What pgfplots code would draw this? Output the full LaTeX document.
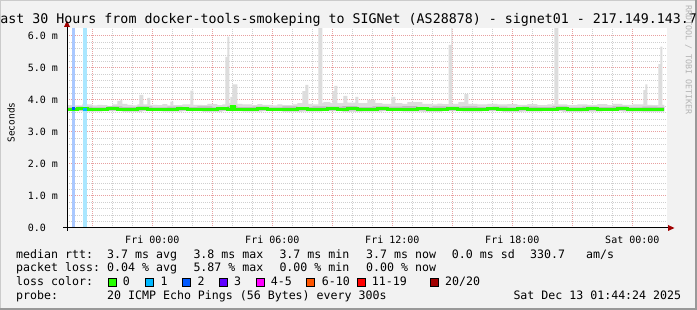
\documentclass[border=0pt]{standalone}
\usepackage{pgfplots}
\pgfplotsset{compat=1.18}
\usepgfplotslibrary{fillbetween}
\usepackage{fontspec}
\setmainfont{DejaVu Sans Mono}
\setmonofont{DejaVu Sans Mono}
\definecolor{bgc}{HTML}{F2F2F2}
\definecolor{shadeA}{HTML}{CBCBCB}
\definecolor{shadeB}{HTML}{999999}
\definecolor{gridminor}{HTML}{CFCFCF}
\definecolor{gridmajor}{HTML}{E8A0A0}
\definecolor{tickgray}{HTML}{A0A0A0}
\definecolor{arrowred}{HTML}{A00000}
\definecolor{smokeA}{HTML}{DDDDDD}
\definecolor{smokeB}{HTML}{BDBDBD}
\definecolor{medgreen}{HTML}{26FF00}
\definecolor{loss1}{HTML}{00B8FF}
\definecolor{loss2}{HTML}{0059FF}
\definecolor{loss3}{HTML}{5E00FF}
\definecolor{loss45}{HTML}{FF00FF}
\definecolor{loss610}{HTML}{FF5500}
\definecolor{loss1119}{HTML}{FF0000}
\definecolor{loss20}{HTML}{A10000}
\definecolor{bgloss1}{RGB}{170,231,255}
\definecolor{bgloss2}{RGB}{170,200,255}
\definecolor{wm}{HTML}{B4B4B4}
\newcommand{\lgf}{\fontsize{11.6}{13}\selectfont}
\newcommand{\lt}[3]{\node[anchor=base west, inner sep=0pt, font=\lgf] at (#1,#2) {#3};}
\newcommand{\lbox}[2]{\filldraw[fill=#2, draw=black, line width=0.8pt] (#1,23.3) rectangle ++(8,8);}
\begin{document}
\begin{tikzpicture}[x=1pt,y=1pt]
% page background with a hole where the plot area is (the axis draws it on lower layers)
\fill[bgc, even odd rule] (0,0) rectangle (697,310) (67,82) rectangle (667,282);
\fill[shadeA] (0,309) rectangle (697,310);
\fill[shadeA] (0,0) rectangle (1,310);
\fill[shadeB] (0,0) rectangle (697,2);
\fill[shadeB] (695,0) rectangle (697,310);

\begin{axis}[
  at={(67pt,82pt)}, anchor=south west, scale only axis,
  width=600pt, height=200pt,
  xmin=-4.2667, xmax=25.7333, ymin=0, ymax=6.25,
  axis line style={draw=none},
  xtick pos=bottom, ytick pos=left, tick align=outside,
  major tick length=3pt, minor tick length=2pt,
  x tick style={gridmajor, line width=1pt},
  minor x tick style={tickgray, line width=1pt},
  y tick style={tickgray, line width=1pt},
  axis background/.style={fill=white},
  xtick={-3,0,...,24},
  xticklabels={{},{Fri 00:00},{},{Fri 06:00},{},{Fri 12:00},{},{Fri 18:00},{},{Sat 00:00}},
  minor x tick num=2,
  ytick={0,1,...,6},
  yticklabels={0.0,1.0 m,2.0 m,3.0 m,4.0 m,5.0 m,6.0 m},
  minor y tick num=4,
  grid=both,
  major grid style={draw=gridmajor, line width=1pt, dash pattern=on 1pt off 1pt},
  minor grid style={draw=gridminor, line width=1pt, dash pattern=on 1pt off 1pt},
  xticklabel style={font=\fontsize{10}{12}\selectfont, anchor=base, inner sep=0pt, yshift=-12.7pt},
  yticklabel style={font=\fontsize{10}{12}\selectfont, anchor=west, inner sep=0pt, xshift=-36.3pt},
]
% smoke: outer envelope
\addplot[name path=up, draw=none, const plot] coordinates {
(-4.25,3.84) (-4.0,3.83) (-3.5,3.88) (-3.25,3.86) (-3.0,3.83) (-2.75,3.85) (-2.5,3.84) (-2.25,3.82) (-2.0,3.86) (-1.75,3.97) (-1.6,4.0) (-1.5,3.88) (-1.25,3.85) (-1.0,3.83) (-0.75,3.86) (-0.65,4.16) (-0.45,3.86) (-0.25,4.07) (-0.1,3.85) (0.25,3.84) (0.5,3.87) (0.75,3.83) (0.9,3.95) (1.05,3.84) (1.5,3.86) (1.9,4.29) (2.05,3.85) (2.5,3.84) (2.75,3.88) (3.0,3.87) (3.25,3.84) (3.5,3.86) (3.65,5.35) (3.75,5.98) (3.85,3.9) (3.9,4.1) (4.0,4.49) (4.25,3.88) (4.5,3.86) (5.0,3.84) (5.25,3.87) (5.5,3.85) (6.0,3.83) (6.25,3.86) (6.5,3.84) (7.0,3.86) (7.25,3.9) (7.5,4.28) (7.65,4.47) (7.8,3.88) (8.0,3.86) (8.3,6.25) (8.5,3.9) (8.55,3.93) (8.9,3.9) (9.0,4.28) (9.1,4.44) (9.25,3.9) (9.55,4.13) (9.75,3.92) (10.15,4.1) (10.3,3.9) (10.75,4.0) (11.15,3.9) (11.5,3.88) (11.95,4.1) (12.15,3.9) (12.5,3.88) (12.75,3.93) (13.5,3.88) (14.0,3.86) (14.25,3.89) (14.5,3.87) (14.82,5.72) (14.95,6.25) (15.0,3.88) (15.3,3.93) (15.6,4.18) (15.8,3.88) (16.25,3.86) (16.75,3.88) (17.25,3.86) (17.75,3.87) (18.25,3.85) (18.75,3.87) (19.25,3.84) (19.75,3.86) (20.1,6.25) (20.3,3.86) (20.75,3.84) (21.25,3.86) (21.75,3.85) (22.25,3.87) (22.75,3.84) (23.0,3.88) (23.5,3.85) (24.0,3.86) (24.55,4.31) (24.65,4.49) (24.75,3.85) (25.0,3.84) (25.3,5.12) (25.4,5.67) (25.5,3.85) (25.6,3.85)};
\addplot[name path=lo, draw=none, const plot] coordinates {
(-4.25,3.65) (-3.5,3.64) (-2.5,3.65) (-1.5,3.63) (-0.5,3.65) (0.5,3.64) (1.5,3.65) (2.5,3.63) (3.5,3.65) (4.5,3.64) (5.5,3.65) (6.5,3.63) (7.5,3.64) (8.5,3.65) (9.5,3.63) (10.5,3.64) (11.5,3.65) (12.5,3.64) (13.5,3.63) (14.5,3.65) (15.5,3.64) (16.5,3.65) (17.5,3.63) (18.5,3.64) (19.5,3.65) (20.5,3.63) (21.5,3.64) (22.5,3.65) (23.5,3.64) (24.5,3.63) (25.6,3.64)};
\addplot[smokeA] fill between[of=up and lo];
% smoke: inner band
\addplot[name path=mup, draw=none, const plot] coordinates {
(-4.25,3.77) (-3.75,3.79) (-3.0,3.77) (-2.25,3.80) (-1.5,3.78) (-0.75,3.80) (0,3.77) (0.75,3.79) (1.5,3.78) (2.25,3.80) (3.0,3.77) (3.75,3.82) (4.25,3.78) (5.0,3.79) (5.75,3.77) (6.5,3.80) (7.25,3.78) (8.0,3.80) (8.75,3.79) (9.5,3.81) (10.25,3.78) (11.0,3.80) (11.75,3.79) (12.5,3.81) (13.25,3.78) (14.0,3.80) (14.75,3.79) (15.5,3.80) (16.25,3.78) (17.0,3.79) (17.75,3.77) (18.5,3.79) (19.25,3.78) (20.0,3.80) (20.75,3.77) (21.5,3.79) (22.25,3.78) (23.0,3.80) (23.75,3.77) (24.5,3.79) (25.25,3.78) (25.6,3.78)};
\addplot[name path=mlo, draw=none, const plot] coordinates {(-4.25,3.67) (25.6,3.67)};
\addplot[smokeB] fill between[of=mup and mlo];
% loss background bars
\addplot[fill=bgloss2, draw=none] coordinates {(-4.0,6.25) (-3.85,6.25)} \closedcycle;
\addplot[fill=bgloss1, draw=none] coordinates {(-3.465,6.25) (-3.265,6.25)} \closedcycle;
% median rtt
\addplot[const plot, medgreen, line width=3pt] coordinates {
(-4.25,3.71) (-3.75,3.72) (-3.25,3.70) (-2.75,3.71) (-2.25,3.72) (-1.75,3.70) (-1.25,3.71) (-0.75,3.72) (-0.25,3.70) (0.25,3.71) (0.75,3.70) (1.25,3.72) (1.75,3.71) (2.25,3.70) (2.75,3.71) (3.25,3.72) (3.75,3.71) (3.95,3.79) (4.1,3.71) (4.75,3.70) (5.25,3.72) (5.75,3.71) (6.25,3.70) (6.75,3.71) (7.25,3.72) (7.75,3.71) (8.25,3.70) (8.75,3.72) (9.25,3.71) (9.75,3.72) (10.25,3.70) (10.75,3.71) (11.25,3.72) (11.75,3.71) (12.25,3.70) (12.75,3.71) (13.25,3.72) (13.75,3.70) (14.25,3.71) (14.75,3.72) (15.25,3.71) (15.75,3.70) (16.25,3.71) (16.75,3.72) (17.25,3.70) (17.75,3.71) (18.25,3.72) (18.75,3.71) (19.25,3.70) (19.75,3.71) (20.25,3.72) (20.75,3.70) (21.25,3.71) (21.75,3.72) (22.25,3.70) (22.75,3.71) (23.25,3.72) (23.75,3.71) (24.25,3.70) (24.75,3.71) (25.25,3.70) (25.6,3.70)};
\addplot[const plot, loss2, line width=3pt] coordinates {(-4.0,3.73) (-3.85,3.73)};
\addplot[const plot, loss1, line width=3pt] coordinates {(-3.465,3.71) (-3.265,3.71)};
\end{axis}

% axes and arrows
\draw[line width=1pt, black] (63,82) -- (669,82);
\fill[arrowred] (668,79) -- (674.5,82) -- (668,85) -- cycle;
\draw[line width=1pt, black] (67,79) -- (67,284);
\fill[arrowred] (64,283) -- (67,289.5) -- (70,283) -- cycle;

% title and side texts
\node[anchor=base west, inner sep=0pt, font=\fontsize{13.3}{16}\selectfont] at (0.2,286.5) {ast 30 Hours from docker-tools-smokeping to SIGNet (AS28878) - signet01 - 217.149.143.7};
\node[rotate=-90, inner sep=0pt, text=wm, font=\fontsize{8.3}{10}\selectfont] at (688.5,250) {RRDTOOL / TOBI OETIKER};
\node[rotate=90, inner sep=0pt, font=\fontsize{9.5}{11}\selectfont] at (11,187.5) {Seconds};

% legend
\lt{16}{51.7}{median rtt:}
\lt{107}{51.7}{3.7 ms avg}
\lt{193.3}{51.7}{3.8 ms max}
\lt{279.3}{51.7}{3.7 ms min}
\lt{366}{51.7}{3.7 ms now}
\lt{451.7}{51.7}{0.0 ms sd}
\lt{530}{51.7}{330.7}
\lt{586}{51.7}{am/s}
\lt{16}{38}{packet loss:}
\lt{107}{38}{0.04 \% avg}
\lt{193.3}{38}{5.87 \% max}
\lt{279.3}{38}{0.00 \% min}
\lt{366}{38}{0.00 \% now}
\lt{16}{24.3}{loss color:}
\lbox{108.3}{medgreen}\lt{122.7}{24.3}{0}
\lbox{145.7}{loss1}\lt{160.5}{24.3}{1}
\lbox{182.7}{loss2}\lt{197.3}{24.3}{2}
\lbox{219.3}{loss3}\lt{234}{24.3}{3}
\lbox{256}{loss45}\lt{270.7}{24.3}{4-5}
\lbox{306.7}{loss610}\lt{321.7}{24.3}{6-10}
\lbox{357.7}{loss1119}\lt{371.7}{24.3}{11-19}
\lbox{430}{loss20}\lt{445}{24.3}{20/20}
\lt{16}{10.6}{probe:}
\lt{107}{10.6}{20 ICMP Echo Pings (56 Bytes) every 300s}
\lt{513.3}{10.6}{Sat Dec 13 01:44:24 2025}
\pgfresetboundingbox
\useasboundingbox (0,0) rectangle (697,310);
\end{tikzpicture}
\end{document}
